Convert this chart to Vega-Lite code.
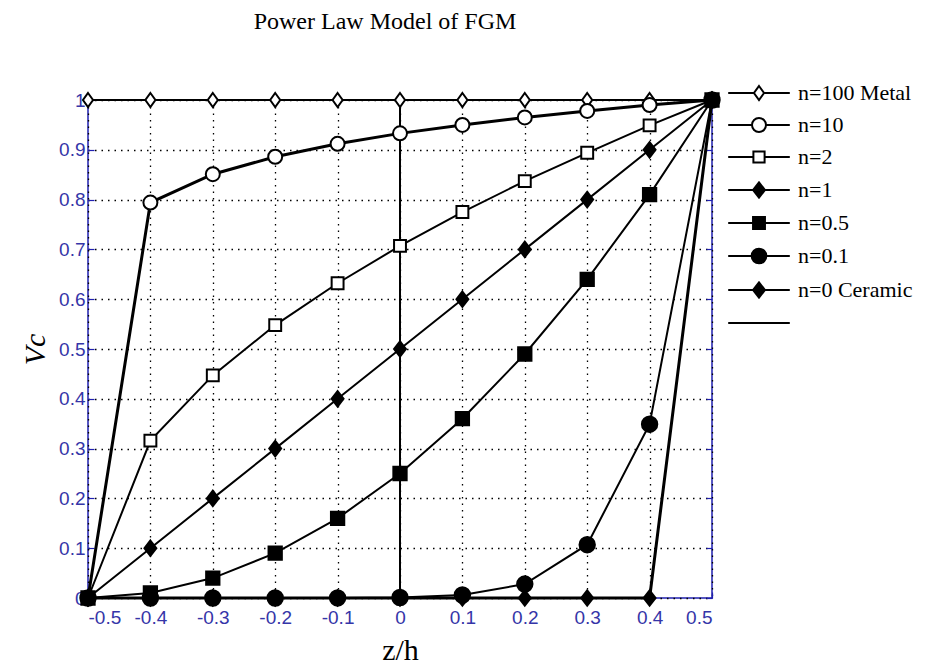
{
  "$schema": "https://vega.github.io/schema/vega-lite/v6.json",
  "autosize": "none",
  "padding": {"left": 88, "top": 100, "right": 215, "bottom": 74},
  "width": 624,
  "height": 498,
  "background": "white",
  "title": {
    "text": "Power Law Model of FGM",
    "font": "Liberation Serif",
    "fontSize": 24,
    "fontWeight": "normal",
    "color": "black",
    "anchor": "middle",
    "frame": "group",
    "baseline": "alphabetic",
    "dx": -15,
    "offset": 29
  },
  "config": {
    "view": {"stroke": "#2020b0", "strokeWidth": 1.5},
    "legend": {"labelFont": "Liberation Serif", "labelFontSize": 22, "labelColor": "black"},
    "axis": {
      "domain": false,
      "tickColor": "#2020b0",
      "tickWidth": 1.2,
      "tickSize": -6,
      "labelFont": "Liberation Sans",
      "labelFontSize": 19,
      "labelColor": "#3535a8",
      "gridColor": "#000000",
      "gridDash": [1.5, 5],
      "gridWidth": 1.3,
      "gridOpacity": 1,
      "titleFont": "Liberation Serif",
      "titleFontSize": 30,
      "titleFontWeight": "normal",
      "titleColor": "#000000"
    }
  },
  "data": {
    "values": [
      {"s": "n=100 Metal", "x": -0.5, "y": 1}, {"s": "n=100 Metal", "x": -0.4, "y": 1}, {"s": "n=100 Metal", "x": -0.3, "y": 1}, {"s": "n=100 Metal", "x": -0.2, "y": 1}, {"s": "n=100 Metal", "x": -0.1, "y": 1}, {"s": "n=100 Metal", "x": 0, "y": 1}, {"s": "n=100 Metal", "x": 0.1, "y": 1}, {"s": "n=100 Metal", "x": 0.2, "y": 1}, {"s": "n=100 Metal", "x": 0.3, "y": 1}, {"s": "n=100 Metal", "x": 0.4, "y": 1}, {"s": "n=100 Metal", "x": 0.5, "y": 1},
      {"s": "n=10", "x": -0.5, "y": 0}, {"s": "n=10", "x": -0.4, "y": 0.794}, {"s": "n=10", "x": -0.3, "y": 0.851}, {"s": "n=10", "x": -0.2, "y": 0.886}, {"s": "n=10", "x": -0.1, "y": 0.912}, {"s": "n=10", "x": 0, "y": 0.933}, {"s": "n=10", "x": 0.1, "y": 0.95}, {"s": "n=10", "x": 0.2, "y": 0.965}, {"s": "n=10", "x": 0.3, "y": 0.978}, {"s": "n=10", "x": 0.4, "y": 0.99}, {"s": "n=10", "x": 0.5, "y": 1},
      {"s": "n=2", "x": -0.5, "y": 0}, {"s": "n=2", "x": -0.4, "y": 0.316}, {"s": "n=2", "x": -0.3, "y": 0.447}, {"s": "n=2", "x": -0.2, "y": 0.548}, {"s": "n=2", "x": -0.1, "y": 0.632}, {"s": "n=2", "x": 0, "y": 0.707}, {"s": "n=2", "x": 0.1, "y": 0.775}, {"s": "n=2", "x": 0.2, "y": 0.837}, {"s": "n=2", "x": 0.3, "y": 0.894}, {"s": "n=2", "x": 0.4, "y": 0.949}, {"s": "n=2", "x": 0.5, "y": 1},
      {"s": "n=1", "x": -0.5, "y": 0}, {"s": "n=1", "x": -0.4, "y": 0.1}, {"s": "n=1", "x": -0.3, "y": 0.2}, {"s": "n=1", "x": -0.2, "y": 0.3}, {"s": "n=1", "x": -0.1, "y": 0.4}, {"s": "n=1", "x": 0, "y": 0.5}, {"s": "n=1", "x": 0.1, "y": 0.6}, {"s": "n=1", "x": 0.2, "y": 0.7}, {"s": "n=1", "x": 0.3, "y": 0.8}, {"s": "n=1", "x": 0.4, "y": 0.9}, {"s": "n=1", "x": 0.5, "y": 1},
      {"s": "n=0.5", "x": -0.5, "y": 0}, {"s": "n=0.5", "x": -0.4, "y": 0.01}, {"s": "n=0.5", "x": -0.3, "y": 0.04}, {"s": "n=0.5", "x": -0.2, "y": 0.09}, {"s": "n=0.5", "x": -0.1, "y": 0.16}, {"s": "n=0.5", "x": 0, "y": 0.25}, {"s": "n=0.5", "x": 0.1, "y": 0.36}, {"s": "n=0.5", "x": 0.2, "y": 0.49}, {"s": "n=0.5", "x": 0.3, "y": 0.64}, {"s": "n=0.5", "x": 0.4, "y": 0.81}, {"s": "n=0.5", "x": 0.5, "y": 1},
      {"s": "n=0.1", "x": -0.5, "y": 0}, {"s": "n=0.1", "x": -0.4, "y": 0}, {"s": "n=0.1", "x": -0.3, "y": 0}, {"s": "n=0.1", "x": -0.2, "y": 0}, {"s": "n=0.1", "x": -0.1, "y": 0.0001}, {"s": "n=0.1", "x": 0, "y": 0.001}, {"s": "n=0.1", "x": 0.1, "y": 0.006}, {"s": "n=0.1", "x": 0.2, "y": 0.028}, {"s": "n=0.1", "x": 0.3, "y": 0.107}, {"s": "n=0.1", "x": 0.4, "y": 0.349}, {"s": "n=0.1", "x": 0.5, "y": 1},
      {"s": "n=0 Ceramic", "x": -0.5, "y": 0}, {"s": "n=0 Ceramic", "x": -0.4, "y": 0}, {"s": "n=0 Ceramic", "x": -0.3, "y": 0}, {"s": "n=0 Ceramic", "x": -0.2, "y": 0}, {"s": "n=0 Ceramic", "x": -0.1, "y": 0}, {"s": "n=0 Ceramic", "x": 0, "y": 0}, {"s": "n=0 Ceramic", "x": 0.1, "y": 0}, {"s": "n=0 Ceramic", "x": 0.2, "y": 0}, {"s": "n=0 Ceramic", "x": 0.3, "y": 0}, {"s": "n=0 Ceramic", "x": 0.4, "y": 0}, {"s": "n=0 Ceramic", "x": 0.5, "y": 1},
      {"s": "line", "x": 0, "y": 0}, {"s": "line", "x": 0, "y": 1}
    ]
  },
  "layer": [
    {
      "transform": [{"filter": "datum.s != 'n=10' && datum.s != 'n=0 Ceramic'"}],
      "mark": {"type": "line", "color": "black", "strokeWidth": 2, "clip": false},
      "encoding": {
        "x": {"field": "x", "type": "quantitative", "scale": {"domain": [-0.5, 0.5], "nice": false, "zero": false},
          "axis": {"orient": "bottom", "values": [-0.5, -0.4, -0.3, -0.2, -0.1, 0, 0.1, 0.2, 0.3, 0.4, 0.5], "labelExpr": "'' + datum.value", "grid": true, "labelPadding": 16, "title": "z/h", "titlePadding": 8}},
        "y": {"field": "y", "type": "quantitative", "scale": {"domain": [0, 1], "nice": false, "zero": false},
          "axis": {"orient": "left", "values": [0, 0.1, 0.2, 0.3, 0.4, 0.5, 0.6, 0.7, 0.8, 0.9, 1], "labelExpr": "'' + datum.value", "grid": true, "labelPadding": 9, "title": "Vc", "titleFontStyle": "italic", "titlePadding": 8}},
        "detail": {"field": "s"}
      }
    },
    {
      "transform": [{"filter": "datum.s == 'n=10' || datum.s == 'n=0 Ceramic'"}],
      "mark": {"type": "line", "color": "black", "strokeWidth": 3, "clip": false},
      "encoding": {
        "x": {"field": "x", "type": "quantitative", "axis": null},
        "y": {"field": "y", "type": "quantitative", "axis": null},
        "detail": {"field": "s"}
      }
    },
    {
      "transform": [{"filter": "datum.s != 'line'"}],
      "mark": {"type": "point", "filled": true, "stroke": "black", "strokeWidth": 2, "opacity": 1, "size": 196},
      "encoding": {
        "x": {"field": "x", "type": "quantitative", "axis": {"orient": "top", "values": [-0.5, -0.4, -0.3, -0.2, -0.1, 0, 0.1, 0.2, 0.3, 0.4, 0.5], "labels": false, "grid": false, "title": null}},
        "y": {"field": "y", "type": "quantitative", "axis": {"orient": "right", "values": [0, 0.1, 0.2, 0.3, 0.4, 0.5, 0.6, 0.7, 0.8, 0.9, 1], "labels": false, "grid": false, "title": null}},
        "shape": {"field": "s", "type": "nominal", "legend": null,
          "scale": {"domain": ["n=100 Metal", "n=10", "n=2", "n=1", "n=0.5", "n=0.1", "n=0 Ceramic"],
            "range": ["M0,-1L0.72,0L0,1L-0.72,0Z", "M-1,0A1,1,0,1,1,1,0A1,1,0,1,1,-1,0Z", "M-0.85,-0.85L0.85,-0.85L0.85,0.85L-0.85,0.85Z", "M0,-1.1L0.85,0L0,1.1L-0.85,0Z", "M-0.95,-0.95L0.95,-0.95L0.95,0.95L-0.95,0.95Z", "M-1.1,0A1.1,1.1,0,1,1,1.1,0A1.1,1.1,0,1,1,-1.1,0Z", "M0,-1.1L0.85,0L0,1.1L-0.85,0Z"]}},
        "fill": {"field": "s", "type": "nominal", "legend": null,
          "scale": {"domain": ["n=100 Metal", "n=10", "n=2", "n=1", "n=0.5", "n=0.1", "n=0 Ceramic"],
            "range": ["white", "white", "white", "black", "black", "black", "black"]}}
      }
    },
    {
      "transform": [{"filter": "datum.y > 5"}],
      "mark": {"type": "point", "filled": true, "stroke": "black", "strokeWidth": 2, "opacity": 1, "size": 196},
      "encoding": {
        "x": {"field": "x", "type": "quantitative", "axis": null},
        "y": {"field": "y", "type": "quantitative", "axis": null},
        "shape": {"field": "s", "type": "nominal",
          "scale": {"domain": ["n=100 Metal", "n=10", "n=2", "n=1", "n=0.5", "n=0.1", "n=0 Ceramic", "line"],
            "range": [
              "M-4.4,0L-0.72,0M0.72,0L4.4,0M0,-1L0.72,0L0,1L-0.72,0Z",
              "M-4.4,0L-1,0M1,0L4.4,0M-1,0A1,1,0,1,1,1,0A1,1,0,1,1,-1,0Z",
              "M-4.4,0L-0.8,0M0.8,0L4.4,0M-0.8,-0.8L0.8,-0.8L0.8,0.8L-0.8,0.8Z",
              "M-4.4,0L4.4,0M0,-1.1L0.85,0L0,1.1L-0.85,0Z",
              "M-4.4,0L4.4,0M-0.85,-0.85L0.85,-0.85L0.85,0.85L-0.85,0.85Z",
              "M-4.4,0L4.4,0M-1.05,0A1.05,1.05,0,1,1,1.05,0A1.05,1.05,0,1,1,-1.05,0Z",
              "M-4.4,0L4.4,0M0,-1.1L0.85,0L0,1.1L-0.85,0Z",
              "M-4.4,0L4.4,0"
            ]}},
        "fill": {"field": "s", "type": "nominal",
          "scale": {"domain": ["n=100 Metal", "n=10", "n=2", "n=1", "n=0.5", "n=0.1", "n=0 Ceramic", "line"],
            "range": ["white", "white", "white", "black", "black", "black", "black", "black"]},
          "legend": {
            "title": null,
            "orient": "none",
            "legendX": 660,
            "legendY": -18,
            "symbolSize": 196,
            "symbolStrokeColor": "black",
            "symbolStrokeWidth": 2,
            "symbolOpacity": 1,
            "labelFont": "Liberation Serif",
            "labelFontSize": 22,
            "labelColor": "black",
            "labelOffset": 28,
            "rowPadding": 10,
            "labelExpr": "datum.label == 'line' ? '' : datum.label"
          }
        }
      }
    }
  ],
  "resolve": {
    "axis": {"x": "independent", "y": "independent"},
    "scale": {"shape": "independent", "fill": "independent"}
  }
}
